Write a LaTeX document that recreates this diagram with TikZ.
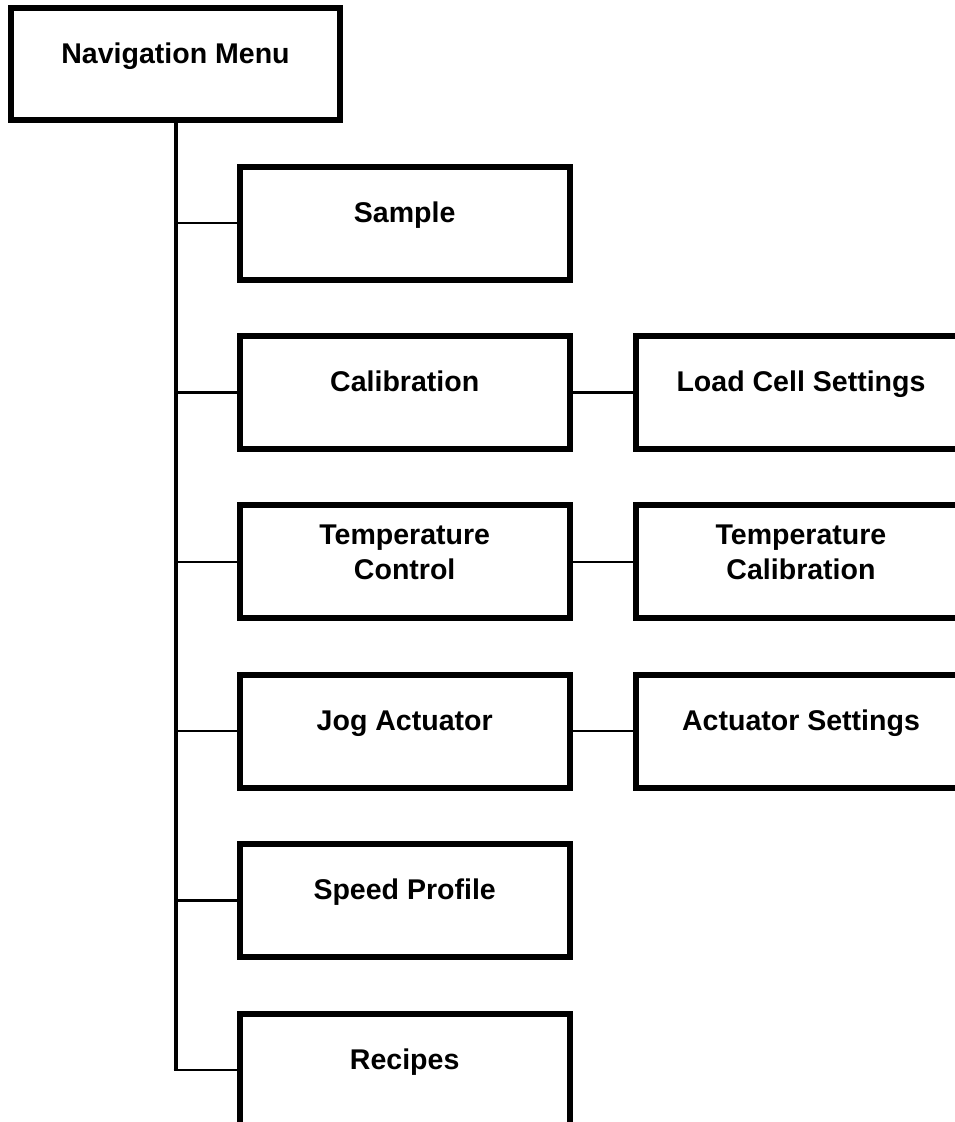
\documentclass[tikz,border=0pt]{standalone}
\usepackage{fontspec}
\setmainfont{Liberation Sans}
\begin{document}
\begin{tikzpicture}[x=0.75pt,y=-0.75pt,
  box/.style={draw=black, line width=4.5pt, minimum width=247.5pt, minimum height=84.75pt, inner sep=0pt},
  navbox/.style={box, minimum width=246.75pt, minimum height=84pt},
  lbl/.style={font=\fontsize{21.4pt}{26.25pt}\selectfont\bfseries, align=center, inner sep=0pt},
  one/.style={lbl, anchor=base},
  two/.style={lbl, anchor=center},
  conn/.style={line width=1.9pt},
  trunk/.style={line width=3pt}]
\useasboundingbox (0,0) rectangle (955,1122);
\clip (0,0) rectangle (955,1122);

% boxes
\node[navbox] (nav) at (175.5,64) {};
\node[box] (smp) at (404.7,223) {};
\node[box] (cal) at (404.7,392.4) {};
\node[box] (tmp) at (404.7,561.8) {};
\node[box] (jog) at (404.7,731.2) {};
\node[box] (spd) at (404.7,900.6) {};
\node[box] (rec) at (404.7,1070) {};
\node[box] (lcs) at (801,392.4) {};
\node[box] (tcl) at (801,561.8) {};
\node[box] (act) at (801,731.2) {};

% labels
\node[one] (navT) at ([yshift=0.75pt]nav.center) {Navigation Menu};
\node[one] (smpT) at ([yshift=0.75pt]smp.center) {Sample};
\node[one] (calT) at ([yshift=0.75pt]cal.center) {Calibration};
\node[two] (tmpT) at ([yshift=6.9pt]tmp.center) {Temperature\\Control};
\node[one] (jogT) at ([yshift=0.75pt]jog.center) {Jog Actuator};
\node[one] (spdT) at ([yshift=0.75pt]spd.center) {Speed Profile};
\node[one] (recT) at ([yshift=0.75pt]rec.center) {Recipes};
\node[one] (lcsT) at ([yshift=0.75pt]lcs.center) {Load Cell Settings};
\node[two] (tclT) at ([yshift=6.9pt]tcl.center) {Temperature\\Calibration};
\node[one] (actT) at ([yshift=0.75pt]act.center) {Actuator Settings};

% trunk and connectors
\coordinate (corner) at (nav.south |- rec.west);
\draw[trunk] (nav.south) -- ([yshift=-0.9pt]corner);
\draw[conn] (nav.south |- smp.west) -- (smp.west);
\draw[conn] (nav.south |- cal.west) -- (cal.west);
\draw[conn] (nav.south |- tmp.west) -- (tmp.west);
\draw[conn] (nav.south |- jog.west) -- (jog.west);
\draw[conn] (nav.south |- spd.west) -- (spd.west);
\draw[conn] ([xshift=-1.5pt]corner) -- (rec.west);
\draw[conn] (cal.east) -- (lcs.west);
\draw[conn] (tmp.east) -- (tcl.west);
\draw[conn] (jog.east) -- (act.west);
\end{tikzpicture}
\end{document}
